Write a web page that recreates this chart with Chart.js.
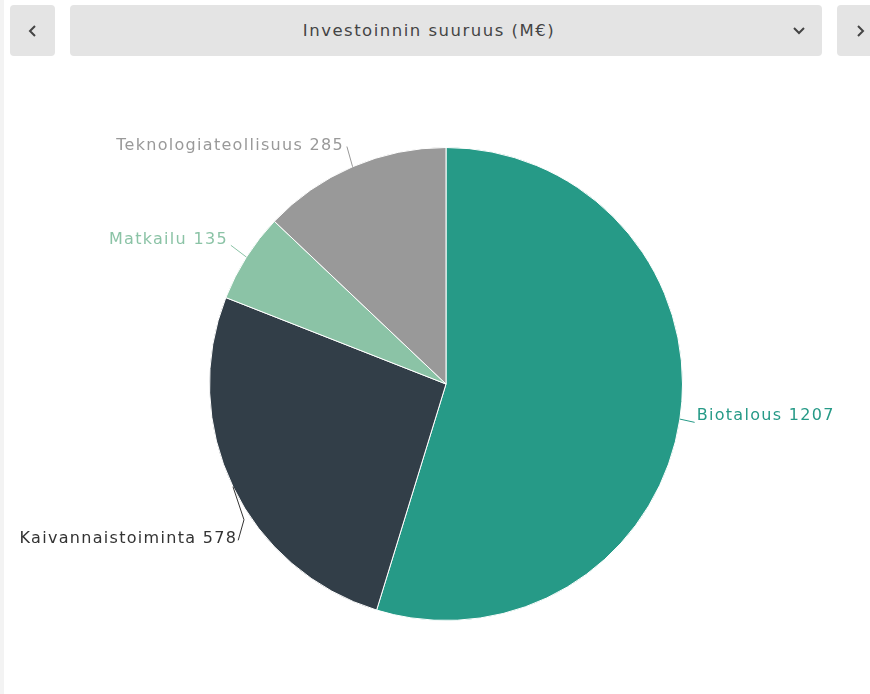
<!DOCTYPE html>
<html>
<head>
<meta charset="utf-8">
<script src="https://cdn.jsdelivr.net/npm/chart.js@4.4.1/dist/chart.umd.min.js"></script>
<style>
  html, body { margin: 0; padding: 0; background: #fff; overflow: hidden; }
  body { width: 870px; height: 694px; position: relative; font-family: 'DejaVu Sans', sans-serif; }
  .edge { position: absolute; left: 0; top: 0; width: 4px; height: 694px; background: #f3f3f3; }
  .btn, .select {
    position: absolute; top: 5px; height: 51px; background: #e4e4e4; border-radius: 4px;
    color: #444; display: flex; align-items: center; justify-content: center;
  }
  .btn { width: 45px; }
  #prev { left: 10px; }
  #next { left: 837px; }
  .select { left: 70px; width: 718px; padding-right: 34px; font-size: 16.5px; letter-spacing: 1.5px; }
  .select .chev { position: absolute; right: 16px; top: 21px; }
  #wrap { position: absolute; left: 0; top: 60px; width: 870px; height: 634px; }
</style>
</head>
<body>
<div class="edge"></div>
<div class="btn" id="prev"><svg width="10" height="14"><path d="M7 2 L2 7 L7 12" stroke="#444" stroke-width="2" fill="none"/></svg></div>
<div class="select">Investoinnin suuruus (M€)<svg class="chev" width="14" height="10"><path d="M2 2 L7 7 L12 2" stroke="#444" stroke-width="2" fill="none"/></svg></div>
<div class="btn" id="next"><svg width="10" height="14"><path d="M3 2 L8 7 L3 12" stroke="#444" stroke-width="2" fill="none"/></svg></div>
<div id="wrap"><canvas id="pie"></canvas></div>
<script>
const sectors = ['Biotalous', 'Kaivannaistoiminta', 'Matkailu', 'Teknologiateollisuus'];
const investments = [1207, 578, 135, 285];
const sliceColors = ['#269a87', '#323e48', '#8bc3a6', '#999999'];
const labelColors = ['#269a87', '#333333', '#8bc3a6', '#999999'];

// labels with leader lines, placed around the pie
const pieLabels = {
    id: 'pieLabels',
    afterDatasetsDraw(chart, args, opts) {
        const ctx = chart.ctx;
        const meta = chart.getDatasetMeta(0);
        ctx.save();
        ctx.font = opts.font;
        ctx.letterSpacing = opts.spacing;
        meta.data.forEach((arc, i) => {
            const p = arc.getProps(['x', 'y', 'startAngle', 'endAngle', 'outerRadius'], true);
            const mid = (p.startAngle + p.endAngle) / 2;
            const cos = Math.cos(mid), sin = Math.sin(mid);
            const sx = p.x + cos * p.outerRadius, sy = p.y + sin * p.outerRadius;
            const dx = opts.shiftX[i], dy = opts.shiftY[i];
            const right = cos >= 0;
            let ex = p.x + cos * (p.outerRadius + opts.distance) + dx;
            let ey = p.y + sin * (p.outerRadius + opts.distance) + dy;
            ctx.strokeStyle = labelColors[i];
            ctx.lineWidth = 1;
            ctx.beginPath();
            ctx.moveTo(sx, sy);
            if (dy) {
                ctx.lineTo(sx + 11, sy + 33);
                ctx.lineTo(ex + 1, ey);
            } else {
                ctx.lineTo(ex + (right ? -2 : 3), ey);
            }
            ctx.stroke();
            ctx.fillStyle = labelColors[i];
            ctx.textAlign = right ? 'left' : 'right';
            ctx.textBaseline = 'middle';
            const ty = dy ? ey - 1 : ey + 3 - 10 * Math.abs(cos);
            ctx.fillText(sectors[i] + ' ' + investments[i], ex, ty);
        });
        ctx.restore();
    }
};

new Chart(document.getElementById('pie'), {
    type: 'pie',
    data: {
        labels: sectors,
        datasets: [{
            data: investments,
            backgroundColor: sliceColors,
            borderColor: '#ffffff',
            borderWidth: 1
        }]
    },
    options: {
        responsive: true,
        maintainAspectRatio: false,
        animation: false,
        layout: { padding: { top: 87, bottom: 73, left: 120, right: 98 } },
        plugins: {
            legend: { display: false },
            tooltip: { enabled: false },
            pieLabels: {
                font: '16px "DejaVu Sans"',
                spacing: '1.3px',
                distance: 22,
                shiftX: [-5, 24, 0, 0],
                shiftY: [0, 44, 0, 0]
            }
        }
    },
    plugins: [pieLabels]
});
</script>
</body>
</html>
